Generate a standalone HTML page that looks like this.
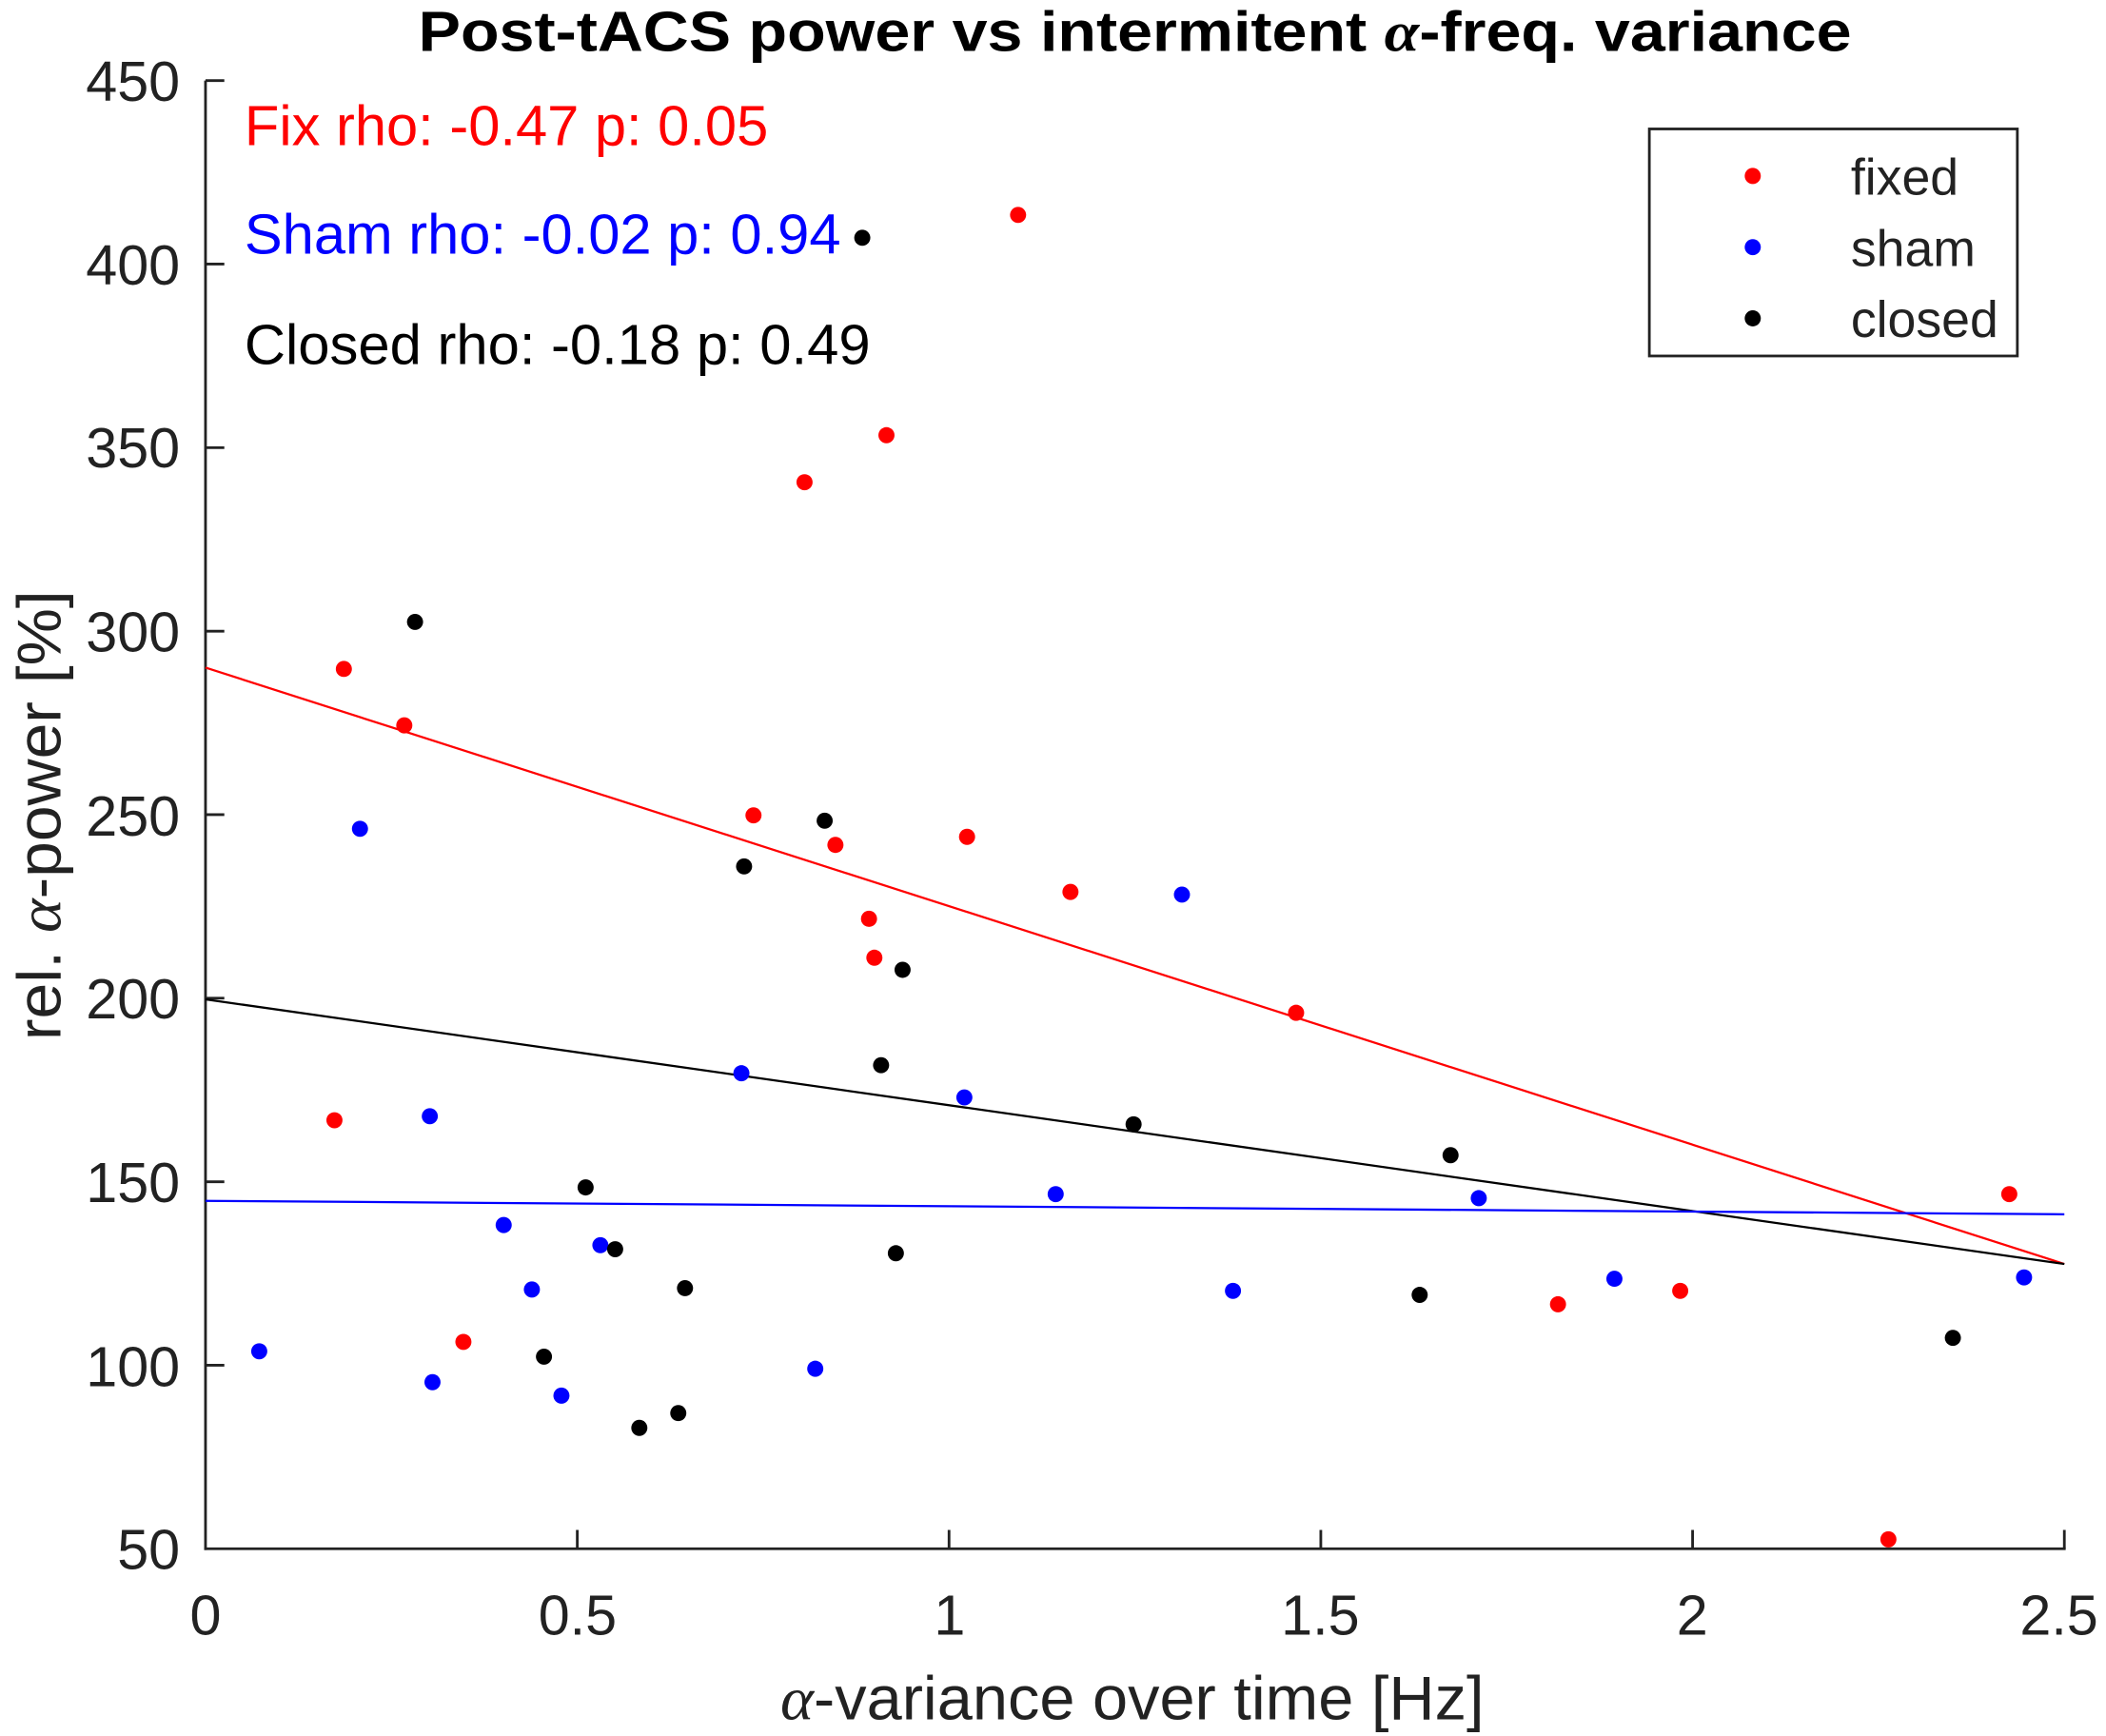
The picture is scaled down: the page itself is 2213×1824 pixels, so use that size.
<!DOCTYPE html>
<html><head><meta charset="utf-8"><style>html,body{margin:0;padding:0;background:#fff}svg{display:block}</style></head>
<body>
<svg xmlns="http://www.w3.org/2000/svg" width="2213" height="1824" viewBox="0 0 1568 1292.4" font-family="Liberation Sans, Arial, sans-serif">
<rect width="1568" height="1292.4" fill="#fff"/>
<text x="845" y="38" text-anchor="middle" font-size="42" font-weight="bold" textLength="1067" lengthAdjust="spacingAndGlyphs">Post-tACS power vs intermitent <tspan font-family="Liberation Serif, serif" font-style="italic">α</tspan>-freq. variance</text>
<g stroke="#222" stroke-width="2" fill="none">
<line x1="153" y1="60" x2="153" y2="1154"/>
<line x1="152" y1="1153" x2="1538" y2="1153"/>
<g>
<line x1="153" y1="60" x2="167" y2="60"/><line x1="153" y1="196.6" x2="167" y2="196.6"/><line x1="153" y1="333.3" x2="167" y2="333.3"/><line x1="153" y1="469.9" x2="167" y2="469.9"/><line x1="153" y1="606.5" x2="167" y2="606.5"/><line x1="153" y1="743.1" x2="167" y2="743.1"/><line x1="153" y1="879.8" x2="167" y2="879.8"/><line x1="153" y1="1016.4" x2="167" y2="1016.4"/>
<line x1="429.8" y1="1153" x2="429.8" y2="1139"/><line x1="706.6" y1="1153" x2="706.6" y2="1139"/><line x1="983.4" y1="1153" x2="983.4" y2="1139"/><line x1="1260.2" y1="1153" x2="1260.2" y2="1139"/><line x1="1537" y1="1153" x2="1537" y2="1139"/>
</g></g>
<g font-size="42" fill="#222" text-anchor="end">
<text x="134" y="75">450</text><text x="134" y="212">400</text><text x="134" y="348">350</text><text x="134" y="485">300</text><text x="134" y="622">250</text><text x="134" y="758">200</text><text x="134" y="895">150</text><text x="134" y="1032">100</text><text x="134" y="1168">50</text>
</g>
<g font-size="42" fill="#222" text-anchor="middle">
<text x="153" y="1217">0</text><text x="430" y="1217">0.5</text><text x="707" y="1217">1</text><text x="983" y="1217">1.5</text><text x="1260" y="1217">2</text><text x="1533" y="1217">2.5</text>
</g>
<text x="843" y="1280" text-anchor="middle" font-size="46" fill="#222" textLength="524" lengthAdjust="spacingAndGlyphs"><tspan font-family="Liberation Serif, serif" font-style="italic">α</tspan>-variance over time [Hz]</text>
<text transform="translate(45,607) rotate(-90)" text-anchor="middle" font-size="46" fill="#222" textLength="335" lengthAdjust="spacingAndGlyphs">rel. <tspan font-family="Liberation Serif, serif" font-style="italic">α</tspan>-power [%]</text>
<line x1="153" y1="497" x2="1537" y2="941" stroke="#f00" stroke-width="1.6"/>
<line x1="153" y1="744" x2="1537" y2="941" stroke="#000" stroke-width="1.6"/>
<line x1="153" y1="894" x2="1537" y2="904" stroke="#00f" stroke-width="1.6"/>
<g fill="#f00">
<circle cx="256" cy="498" r="6"/><circle cx="301" cy="540" r="6"/><circle cx="249" cy="834" r="6"/><circle cx="345" cy="999" r="6"/><circle cx="561" cy="607" r="6"/><circle cx="599" cy="359" r="6"/><circle cx="622" cy="629" r="6"/><circle cx="660" cy="324" r="6"/><circle cx="647" cy="684" r="6"/><circle cx="651" cy="713" r="6"/><circle cx="720" cy="623" r="6"/><circle cx="758" cy="160" r="6"/><circle cx="797" cy="664" r="6"/><circle cx="965" cy="754" r="6"/><circle cx="1160" cy="971" r="6"/><circle cx="1251" cy="961" r="6"/><circle cx="1406" cy="1146" r="6"/><circle cx="1496" cy="889" r="6"/>
</g>
<g fill="#00f">
<circle cx="193" cy="1006" r="6"/><circle cx="268" cy="617" r="6"/><circle cx="320" cy="831" r="6"/><circle cx="322" cy="1029" r="6"/><circle cx="375" cy="912" r="6"/><circle cx="396" cy="960" r="6"/><circle cx="418" cy="1039" r="6"/><circle cx="447" cy="927" r="6"/><circle cx="552" cy="799" r="6"/><circle cx="607" cy="1019" r="6"/><circle cx="718" cy="817" r="6"/><circle cx="786" cy="889" r="6"/><circle cx="880" cy="666" r="6"/><circle cx="918" cy="961" r="6"/><circle cx="1101" cy="892" r="6"/><circle cx="1202" cy="952" r="6"/><circle cx="1507" cy="951" r="6"/>
</g>
<g fill="#000">
<circle cx="642" cy="177" r="6"/><circle cx="309" cy="463" r="6"/><circle cx="614" cy="611" r="6"/><circle cx="554" cy="645" r="6"/><circle cx="672" cy="722" r="6"/><circle cx="656" cy="793" r="6"/><circle cx="436" cy="884" r="6"/><circle cx="458" cy="930" r="6"/><circle cx="405" cy="1010" r="6"/><circle cx="510" cy="959" r="6"/><circle cx="476" cy="1063" r="6"/><circle cx="505" cy="1052" r="6"/><circle cx="667" cy="933" r="6"/><circle cx="844" cy="837" r="6"/><circle cx="1080" cy="860" r="6"/><circle cx="1057" cy="964" r="6"/><circle cx="1454" cy="996" r="6"/>
</g>
<g font-size="42">
<text x="182" y="108" fill="#f00" textLength="390" lengthAdjust="spacingAndGlyphs">Fix rho: -0.47 p: 0.05</text>
<text x="182" y="189" fill="#00f" textLength="444" lengthAdjust="spacingAndGlyphs">Sham rho: -0.02 p: 0.94</text>
<text x="182" y="271" fill="#000" textLength="466" lengthAdjust="spacingAndGlyphs">Closed rho: -0.18 p: 0.49</text>
</g>
<rect x="1228" y="96" width="274" height="169" fill="#fff" stroke="#222" stroke-width="2"/>
<circle cx="1305" cy="131" r="6" fill="#f00"/><circle cx="1305" cy="184" r="6" fill="#00f"/><circle cx="1305" cy="237" r="6" fill="#000"/>
<g font-size="38" fill="#222">
<text x="1378" y="145">fixed</text><text x="1378" y="198">sham</text><text x="1378" y="251">closed</text>
</g>
</svg>
</body></html>
